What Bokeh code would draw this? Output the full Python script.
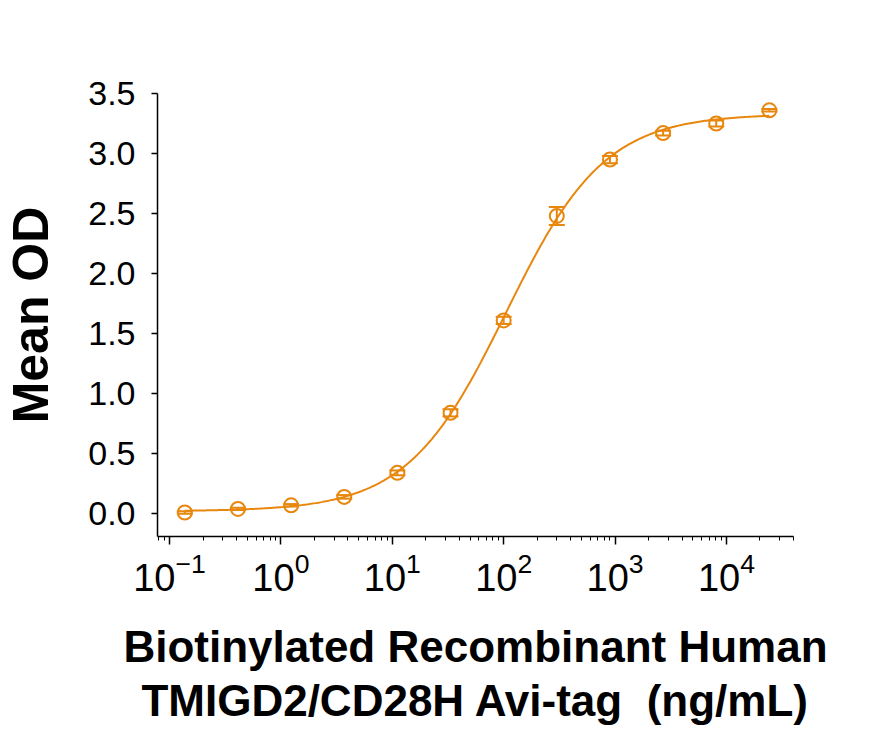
import numpy as np
from bokeh.plotting import figure
from bokeh.models import ColumnDataSource, Whisker, TeeHead, FixedTicker, Range1d
from bokeh.embed import file_html
from bokeh.resources import INLINE

# ---- data ----
concentration = [0.1372, 0.4115, 1.235, 3.704, 11.11, 33.33, 100, 300, 900, 2700, 8100, 24300]
mean_od = [0.01, 0.04, 0.07, 0.14, 0.34, 0.84, 1.61, 2.48, 2.95, 3.17, 3.25, 3.36]
od_sd = [0.01, 0.01, 0.01, 0.015, 0.02, 0.03, 0.03, 0.075, 0.03, 0.02, 0.025, 0.01]

# 4-parameter logistic fit shown as the curve
fit_bottom = 0.02
fit_top = 3.33
fit_ec50 = 105.0
fit_hill = 0.98

y_ticks = [0.0, 0.5, 1.0, 1.5, 2.0, 2.5, 3.0, 3.5]
y_tick_labels = ["0.0", "0.5", "1.0", "1.5", "2.0", "2.5", "3.0", "3.5"]

x_label = "Biotinylated Recombinant Human\nTMIGD2/CD28H Avi-tag\u00a0 (ng/mL)"
y_label = "Mean OD"

ORANGE = "#E8870E"
FONT = "Liberation Sans"

# ---- figure ----
p = figure(width=861, height=728, x_axis_type="log",
           x_range=Range1d(0.078, 40000), y_range=Range1d(-0.19, 3.5),
           output_backend="svg", toolbar_location=None,
           min_border_left=156, min_border_right=68,
           min_border_top=93, min_border_bottom=191)
p.outline_line_color = None
p.xgrid.visible = False
p.ygrid.visible = False
p.background_fill_color = "white"
p.border_fill_color = "white"

# fitted curve
xs = np.logspace(np.log10(concentration[0]), np.log10(concentration[-1]), 400)
ys = fit_bottom + (fit_top - fit_bottom) / (1.0 + (fit_ec50 / xs) ** fit_hill)
p.line(xs, ys, line_color=ORANGE, line_width=2)

src = ColumnDataSource(dict(
    x=concentration, y=mean_od,
    lo=[m - s for m, s in zip(mean_od, od_sd)],
    hi=[m + s for m, s in zip(mean_od, od_sd)],
))

w = Whisker(base="x", lower="lo", upper="hi", source=src,
            line_color=ORANGE, line_width=2,
            upper_head=TeeHead(size=16, line_color=ORANGE, line_width=2),
            lower_head=TeeHead(size=16, line_color=ORANGE, line_width=2))
p.add_layout(w)

p.scatter("x", "y", source=src, marker="circle", size=14,
          fill_color=None, line_color=ORANGE, line_width=2)

# ---- axes ----
yax = p.yaxis[0]
yax.ticker = FixedTicker(ticks=y_ticks)
yax.major_label_overrides = {t: l for t, l in zip(y_ticks, y_tick_labels)}
yax.minor_tick_line_color = None
yax.major_tick_out = 6
yax.major_tick_in = 0
yax.major_label_standoff = 16
yax.major_label_text_font = FONT
yax.major_label_text_font_size = "34px"
yax.major_label_text_color = "black"
yax.axis_line_width = 1.5
yax.major_tick_line_width = 1.5
yax.axis_line_color = "black"
yax.axis_label = y_label
yax.axis_label_text_font = FONT
yax.axis_label_text_font_style = "bold"
yax.axis_label_text_font_size = "50px"
yax.axis_label_text_color = "black"
yax.axis_label_standoff = 26

xax = p.xaxis[0]
xax.major_tick_out = 8
xax.major_tick_in = 0
xax.minor_tick_out = 4
xax.minor_tick_in = 0
xax.axis_line_width = 1.5
xax.major_tick_line_width = 1.5
xax.minor_tick_line_width = 1
xax.axis_line_color = "black"
xax.major_label_standoff = 7
xax.major_label_text_font = FONT
xax.major_label_text_font_size = "38px"
xax.major_label_text_color = "black"
xax.axis_label = x_label
xax.axis_label_text_font = FONT
xax.axis_label_text_font_style = "bold"
xax.axis_label_text_font_size = "44px"
xax.axis_label_text_line_height = 1.12
xax.axis_label_text_color = "black"
xax.axis_label_standoff = 28

open("out.html", "w").write(file_html(p, INLINE))
